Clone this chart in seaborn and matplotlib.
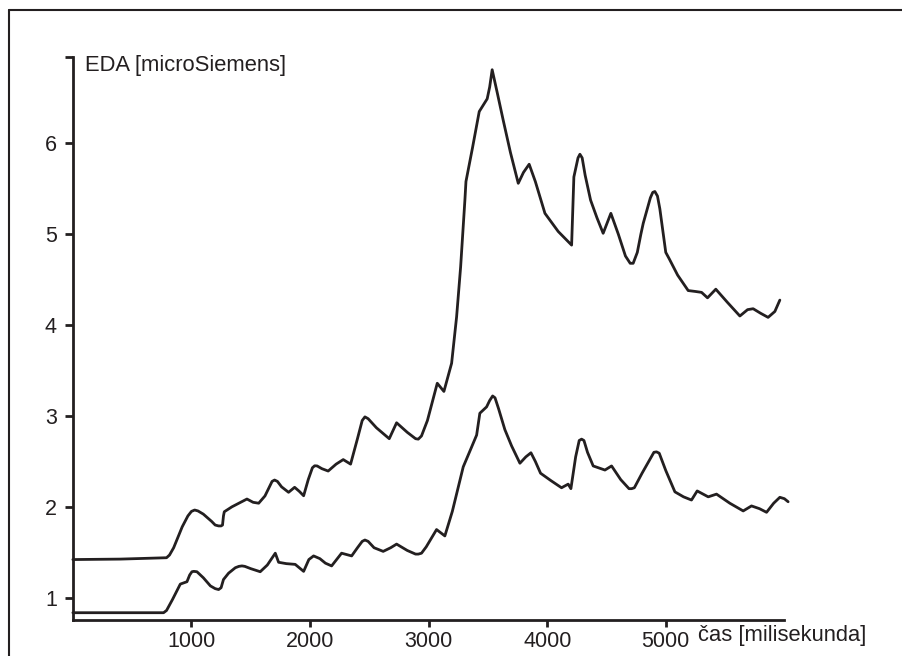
import numpy as np
import pandas as pd
import seaborn as sns
import matplotlib.pyplot as plt
from matplotlib.lines import Line2D

# upper EDA trace
upper_t = [0, 400, 790, 815, 850, 922, 970, 1000, 1027, 1055, 1100, 1170, 1200, 1229, 1250,
           1262, 1270, 1277, 1341, 1400, 1468, 1520, 1567, 1620, 1680, 1701, 1725, 1760,
           1819, 1870, 1910, 1946, 1985, 2020, 2039, 2060, 2100, 2153, 2220, 2280, 2342,
           2400, 2440, 2463, 2490, 2560, 2668, 2730, 2820, 2890, 2913, 2940, 2990, 3073,
           3129, 3194, 3236, 3270, 3306, 3315, 3370, 3427, 3494, 3515, 3536, 3580, 3629,
           3690, 3756, 3800, 3848, 3900, 3981, 4093, 4206, 4225, 4260, 4276, 4295, 4320,
           4366, 4420, 4472, 4537, 4600, 4660, 4700, 4725, 4760, 4790, 4810, 4870, 4890,
           4908, 4930, 4950, 5000, 5029, 5100, 5189, 5250, 5302, 5352, 5422, 5520, 5625,
           5690, 5737, 5800, 5863, 5920, 5962]
upper_eda = [1.42, 1.425, 1.44, 1.47, 1.55, 1.78, 1.90, 1.95, 1.965, 1.955, 1.92, 1.84, 1.80, 1.79, 1.79,
             1.80, 1.90, 1.946, 2.00, 2.04, 2.086, 2.05, 2.04, 2.12, 2.28, 2.295, 2.28, 2.22,
             2.16, 2.215, 2.17, 2.122, 2.30, 2.43, 2.452, 2.45, 2.42, 2.394, 2.47, 2.52, 2.47,
             2.75, 2.95, 2.99, 2.97, 2.87, 2.75, 2.925, 2.82, 2.75, 2.745, 2.78, 2.95, 3.36,
             3.27, 3.58, 4.09, 4.64, 5.375, 5.58, 5.95, 6.35, 6.49, 6.62, 6.81, 6.55, 6.255,
             5.90, 5.56, 5.68, 5.77, 5.58, 5.23, 5.03, 4.88, 5.63, 5.84, 5.88, 5.84, 5.65,
             5.375, 5.18, 5.01, 5.23, 5.00, 4.76, 4.68, 4.68, 4.80, 5.00, 5.12, 5.40, 5.46,
             5.47, 5.42, 5.28, 4.80, 4.73, 4.55, 4.38, 4.37, 4.36, 4.30, 4.395, 4.25, 4.10,
             4.17, 4.18, 4.13, 4.085, 4.15, 4.275]

# lower EDA trace
lower_t = [0, 400, 765, 790, 840, 906, 962, 985, 1004, 1020, 1046, 1100, 1160, 1200, 1229,
           1250, 1270, 1313, 1370, 1400, 1426, 1450, 1500, 1580, 1640, 1707, 1735, 1800,
           1875, 1946, 1990, 2030, 2083, 2130, 2182, 2230, 2266, 2351, 2400, 2440, 2463,
           2490, 2540, 2617, 2680, 2730, 2820, 2890, 2913, 2940, 2980, 3067, 3137, 3200,
           3292, 3360, 3405, 3432, 3489, 3515, 3540, 3560, 3590, 3643, 3700, 3770, 3820,
           3863, 3900, 3944, 4030, 4121, 4177, 4200, 4240, 4270, 4290, 4310, 4340, 4388,
           4487, 4543, 4620, 4690, 4712, 4735, 4800, 4900, 4922, 4945, 5000, 5077, 5150,
           5217, 5265, 5358, 5428, 5540, 5653, 5723, 5790, 5850, 5910, 5962, 6000, 6032]
lower_eda = [0.835, 0.835, 0.835, 0.86, 0.98, 1.15, 1.176, 1.25, 1.286, 1.29, 1.286, 1.22, 1.13, 1.10, 1.09,
             1.11, 1.20, 1.27, 1.33, 1.345, 1.35, 1.345, 1.32, 1.286, 1.36, 1.49, 1.39, 1.375,
             1.367, 1.29, 1.42, 1.46, 1.43, 1.38, 1.35, 1.43, 1.49, 1.46, 1.55, 1.62, 1.635,
             1.62, 1.55, 1.51, 1.55, 1.59, 1.52, 1.48, 1.48, 1.49, 1.56, 1.75, 1.68, 1.95,
             2.44, 2.65, 2.79, 3.03, 3.10, 3.17, 3.22, 3.20, 3.08, 2.85, 2.67, 2.48, 2.55,
             2.595, 2.50, 2.37, 2.29, 2.21, 2.25, 2.20, 2.55, 2.73, 2.745, 2.73, 2.60, 2.45,
             2.405, 2.45, 2.30, 2.20, 2.20, 2.21, 2.37, 2.60, 2.605, 2.59, 2.40, 2.165, 2.11,
             2.075, 2.175, 2.11, 2.14, 2.04, 1.955, 2.01, 1.98, 1.94, 2.04, 2.105, 2.09, 2.056]

x_ticks = [1000, 2000, 3000, 4000, 5000]
y_ticks = [1, 2, 3, 4, 5, 6]

ink = '#231f20'

sns.set_theme(style='ticks')
plt.rcParams['font.family'] = ['Liberation Sans', 'DejaVu Sans']

fig = plt.figure(figsize=(9.03, 6.56), dpi=100)
ax = fig.add_axes([0.0807, 0.0549, 0.7879, 0.8582])

upper = pd.DataFrame({'t': upper_t, 'eda': upper_eda})
lower = pd.DataFrame({'t': lower_t, 'eda': lower_eda})
sns.lineplot(data=upper, x='t', y='eda', sort=False, estimator=None, color=ink, linewidth=2.0, ax=ax)
sns.lineplot(data=lower, x='t', y='eda', sort=False, estimator=None, color=ink, linewidth=2.0, ax=ax)
for ln in ax.lines:
    ln.set_clip_on(False)
    ln.set_solid_joinstyle('round')

ax.set_xlim(0, 6000)
ax.set_ylim(0.755, 6.95)
ax.set_xticks(x_ticks)
ax.set_yticks(y_ticks)
ax.set_yticks([6.95], minor=True)
ax.set_xlabel('')
ax.set_ylabel('')
sns.despine(ax=ax)
for s in ['left', 'bottom']:
    ax.spines[s].set_linewidth(2)
    ax.spines[s].set_color(ink)
ax.tick_params(axis='both', which='both', direction='out', width=2, color=ink,
               labelsize=15.5, labelcolor=ink)
ax.tick_params(axis='y', which='both', length=5.5, pad=6)
ax.tick_params(axis='x', length=5, pad=3)

ax.text(102, 6.86, 'EDA [microSiemens]', fontsize=15.8, color=ink, va='center', ha='left')
ax.annotate('čas [milisekunda]', xy=(5270, 0), xycoords=('data', 'axes fraction'),
            xytext=(0, -11), textcoords='offset points', fontsize=15.8, color=ink,
            va='center', ha='left', annotation_clip=False)

# frame of the scanned page
fig.add_artist(Line2D([0.00997, 0.00997], [0, 0.985], transform=fig.transFigure, color=ink, lw=1.5))
fig.add_artist(Line2D([0.00997, 1.0], [0.985, 0.985], transform=fig.transFigure, color=ink, lw=1.5))

fig.savefig('out.png', dpi=100)
